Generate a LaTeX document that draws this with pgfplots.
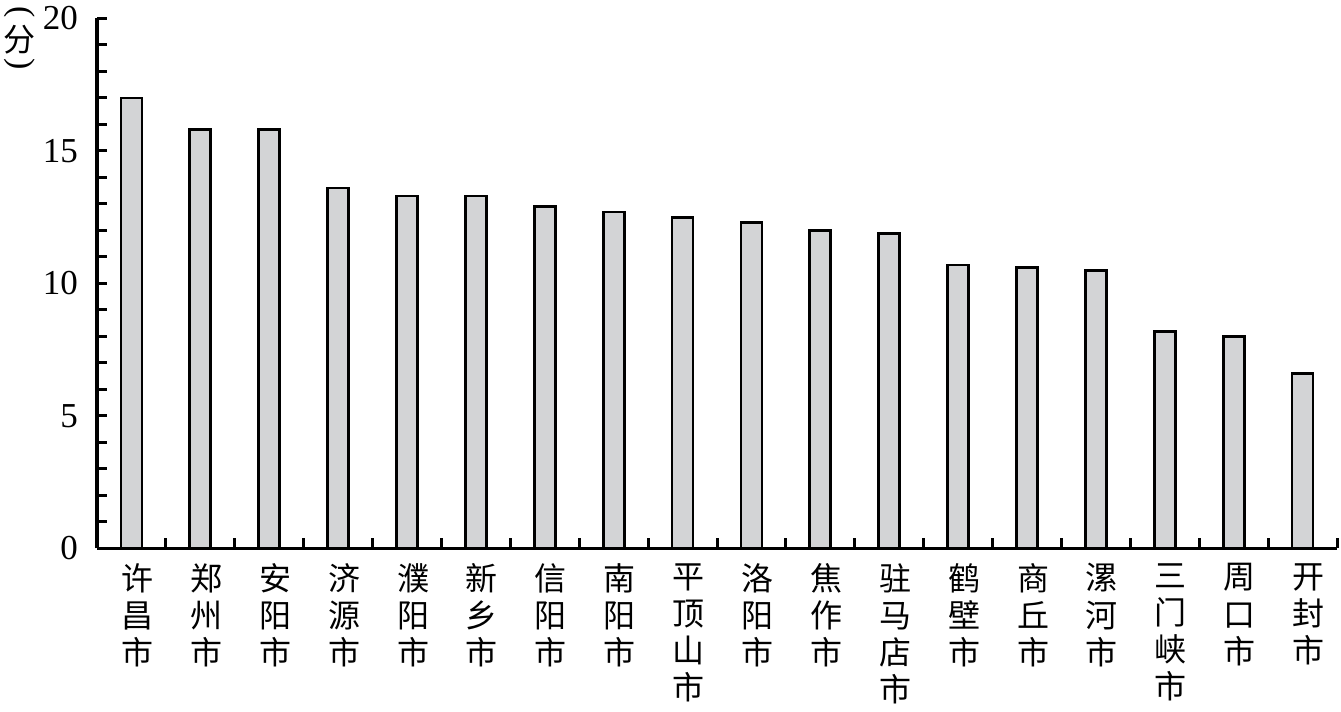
\documentclass[border=0pt]{standalone}
\usepackage{fontspec}
\setmainfont{Liberation Serif}
\newfontfamily\cjk{Noto Sans CJK SC}
\usepackage{pgfplots}
\pgfplotsset{compat=1.18}
\definecolor{barfill}{RGB}{211,212,214}

\begin{document}
\begin{tikzpicture}
\begin{axis}[
    scale only axis,
    width=620pt, height=265pt,
    ymin=0, ymax=20,
    xmin=-0.5, xmax=17.5,
    axis lines*=left,
    axis line style={line width=1.6pt},
    ybar, bar width=10.5pt,
    ytick={0,5,10,15,20},
    minor y tick num=4,
    xtick={0,...,17},
    xticklabels={许\\昌\\市, 郑\\州\\市, 安\\阳\\市, 济\\源\\市, 濮\\阳\\市, 新\\乡\\市,
                 信\\阳\\市, 南\\阳\\市, 平\\顶\\山\\市, 洛\\阳\\市, 焦\\作\\市, 驻\\马\\店\\市,
                 鹤\\壁\\市, 商\\丘\\市, 漯\\河\\市, 三\\门\\峡\\市, 周\\口\\市, 开\\封\\市},
    minor xtick={0.5,1.5,...,17.5},
    major x tick style={draw=none},
    tick align=inside,
    major tick length=5pt,
    minor tick length=5pt,
    every tick/.style={black, line width=1.5pt},
    /pgf/number format/assume math mode=true,
    yticklabel style={font=\fontsize{17.5}{17.5}\selectfont, xshift=-6pt},
    xticklabel style={font=\cjk\fontsize{16}{18.6}\selectfont, align=center,
                      text width=1em, anchor=north, yshift=-4pt},
    clip=false,
]
\addplot[fill=barfill, draw=black, line width=1.4pt] coordinates {
    (0,17.0) (1,15.8) (2,15.8) (3,13.6) (4,13.3) (5,13.3)
    (6,12.9) (7,12.7) (8,12.5) (9,12.3) (10,12.0) (11,11.9)
    (12,10.7) (13,10.6) (14,10.5) (15,8.2) (16,8.0) (17,6.6)};
% vertical unit label: (分)
\node[inner sep=0pt, font=\fontsize{17}{17}\selectfont]
    at ([xshift=-38.5pt, yshift=2.5pt]rel axis cs:0,1) {\rotatebox[origin=c]{-90}{(}};
\node[inner sep=0pt, font=\cjk\fontsize{16}{16}\selectfont]
    at ([xshift=-38.5pt, yshift=-10.5pt]rel axis cs:0,1) {分};
\node[inner sep=0pt, font=\fontsize{17}{17}\selectfont]
    at ([xshift=-38.5pt, yshift=-23.5pt]rel axis cs:0,1) {\rotatebox[origin=c]{-90}{)}};
\path ([xshift=-48.5pt, yshift=-76.5pt]rel axis cs:0,0)
    rectangle ([xshift=2pt, yshift=8.5pt]rel axis cs:1,1);
\end{axis}
\end{tikzpicture}
\end{document}
